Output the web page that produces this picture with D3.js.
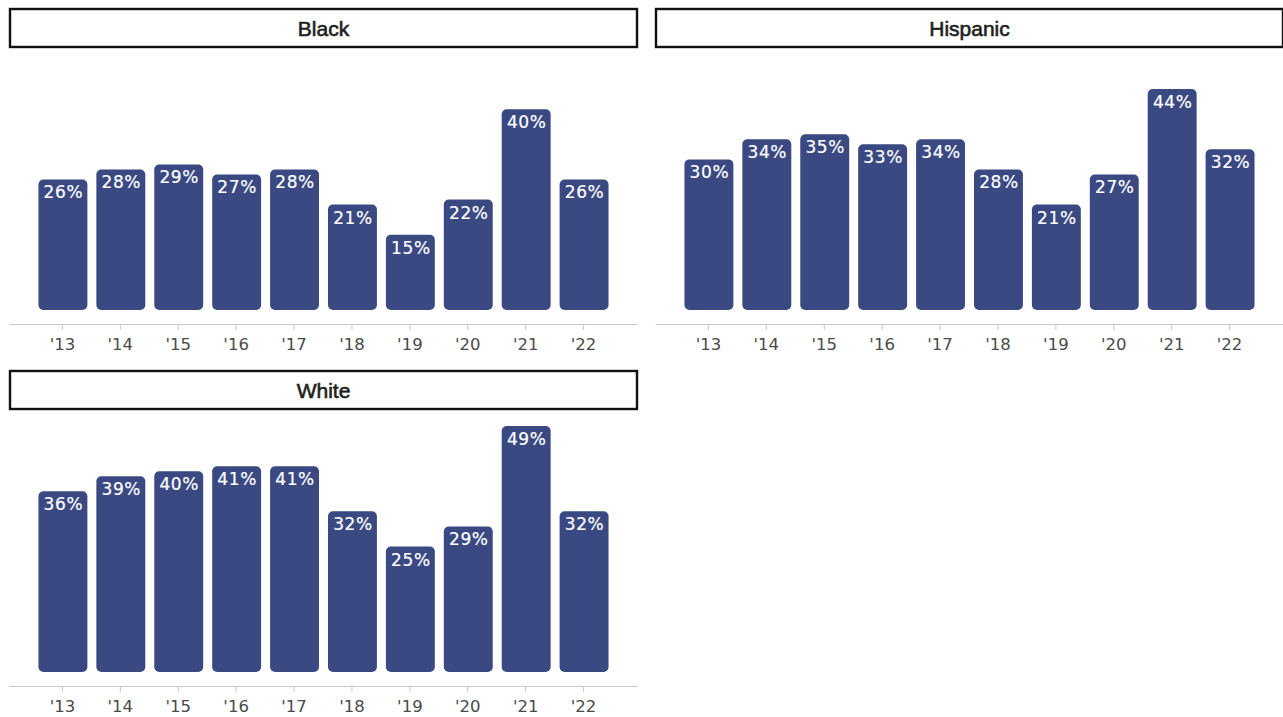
<!DOCTYPE html>
<html>
<head>
<meta charset="utf-8">
<script src="https://cdn.jsdelivr.net/npm/d3@7"></script>
<style>
  html, body { margin: 0; padding: 0; background: #fff; }
  svg { display: block; }
</style>
</head>
<body>
<svg id="chart" width="1283" height="717"></svg>
<script>
// Share of respondents by year, split by group
const years = ["'13", "'14", "'15", "'16", "'17", "'18", "'19", "'20", "'21", "'22"];
const blackValues    = [26, 28, 29, 27, 28, 21, 15, 22, 40, 26];
const hispanicValues = [30, 34, 35, 33, 34, 28, 21, 27, 44, 32];
const whiteValues    = [36, 39, 40, 41, 41, 32, 25, 29, 49, 32];
const groups = ["Black", "Hispanic", "White"];

const panels = [
  { name: groups[0], values: blackValues,    x: 9,   y: 8,   w: 629 },
  { name: groups[1], values: hispanicValues, x: 655, y: 8,   w: 629 },
  { name: groups[2], values: whiteValues,    x: 9,   y: 370, w: 629 }
];

const svg = d3.select("#chart");
const barColor = "#3a4982";
const headerH = 39;
const baseOff = 302;     // bar baseline offset from panel top
const axisOff = 316;     // axis line offset from panel top

// shared value scale: 0..50 % mapped into pixel height
const y = d3.scaleLinear().domain([0, 50]).range([0, 251]);

panels.forEach(p => {
  const g = svg.append("g").attr("transform", `translate(${p.x},${p.y})`);

  // header box with the group name
  g.append("rect")
    .attr("x", 1).attr("y", 1)
    .attr("width", p.w - 2).attr("height", headerH - 1)
    .attr("fill", "#fff").attr("stroke", "#111").attr("stroke-width", 2.4);
  g.append("text")
    .attr("x", p.w / 2).attr("y", headerH / 2 + 1)
    .attr("text-anchor", "middle").attr("dominant-baseline", "central")
    .attr("font-family", "'Liberation Sans', Arial, sans-serif")
    .attr("font-size", 21)
    .attr("fill", "#1e1e1e").attr("stroke", "#1e1e1e").attr("stroke-width", 0.6)
    .text(p.name);

  const x = d3.scaleBand().domain(years).range([0, p.w - 1])
    .paddingInner(0.155).paddingOuter(0.5);

  // bars
  g.selectAll("rect.bar").data(p.values).join("rect")
    .attr("class", "bar")
    .attr("x", (d, i) => x(years[i]) + 0.5)
    .attr("y", d => baseOff - y(d))
    .attr("width", x.bandwidth())
    .attr("height", d => y(d))
    .attr("rx", 5).attr("ry", 5)
    .attr("fill", barColor);

  // value labels inside bar tops
  g.selectAll("text.val").data(p.values).join("text")
    .attr("class", "val")
    .attr("x", (d, i) => x(years[i]) + x.bandwidth() / 2 + 1)
    .attr("y", d => baseOff - y(d) + 19)
    .attr("text-anchor", "middle")
    .attr("font-family", "'DejaVu Sans', sans-serif")
    .attr("font-size", 17).attr("letter-spacing", 0.6)
    .attr("fill", "#fff").attr("stroke", "#fff").attr("stroke-width", 0.2)
    .text(d => d + "%");

  // category axis
  const axis = g.append("g")
    .attr("transform", `translate(0,${axisOff})`)
    .call(d3.axisBottom(x).tickSize(6).tickSizeOuter(0).tickPadding(8));
  axis.select(".domain").attr("stroke", "#c8c8c8").attr("stroke-width", 1.2);
  axis.selectAll(".tick line").attr("stroke", "#c8c8c8");
  axis.selectAll(".tick text")
    .attr("font-family", "'DejaVu Sans', sans-serif")
    .attr("font-size", 16.5).attr("fill", "#4a4a4a");
});
</script>
</body>
</html>
